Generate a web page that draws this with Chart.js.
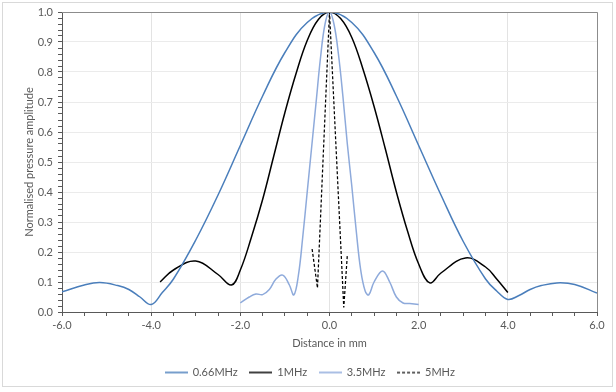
<!DOCTYPE html>
<html>
<head>
<meta charset="utf-8">
<script src="https://cdn.jsdelivr.net/npm/chart.js@4.4.1/dist/chart.umd.min.js"></script>
<style>
  html, body { margin: 0; padding: 0; background: #fff; }
  #wrap { width: 616px; height: 392px; }
</style>
</head>
<body>
<div id="wrap"><canvas id="beam-chart"></canvas></div>
<script>
// values
const x066 = [-6.0, -5.5, -5.15, -4.75, -4.5, -4.25, -4.0, -3.75, -3.5, -3.0, -2.5, -2.0, -1.5, -1.0, -0.5, 0.0, 0.5, 1.0, 1.5, 2.0, 2.5, 3.0, 3.5, 3.75, 4.0, 4.25, 4.5, 4.75, 5.1, 5.5, 6.0];
const y066 = [0.067, 0.09, 0.098, 0.088, 0.075, 0.05, 0.025, 0.065, 0.11, 0.24, 0.39, 0.555, 0.72, 0.865, 0.965, 1.0, 0.965, 0.865, 0.72, 0.555, 0.39, 0.235, 0.11, 0.07, 0.042, 0.055, 0.075, 0.088, 0.097, 0.092, 0.063];

const x1 = [-3.8, -3.5, -3.0, -2.5, -2.2, -2.0, -1.75, -1.5, -1.25, -1.0, -0.75, -0.5, -0.25, 0.0, 0.25, 0.5, 0.75, 1.0, 1.25, 1.5, 1.75, 2.0, 2.25, 2.5, 3.05, 3.5, 3.75, 4.0];
const y1 = [0.10, 0.14, 0.17, 0.125, 0.09, 0.14, 0.25, 0.375, 0.52, 0.665, 0.795, 0.905, 0.975, 1.0, 0.978, 0.915, 0.81, 0.685, 0.545, 0.40, 0.27, 0.16, 0.097, 0.13, 0.18, 0.15, 0.11, 0.065];

const x35 = [-2.0, -1.8, -1.65, -1.5, -1.35, -1.2, -1.05, -0.9, -0.8, -0.7, -0.6, -0.5, -0.4, -0.3, -0.2, -0.1, 0.0, 0.1, 0.2, 0.3, 0.4, 0.5, 0.6, 0.7, 0.8, 0.88, 1.0, 1.19, 1.35, 1.5, 1.65, 1.8, 2.0];
const y35 = [0.03, 0.05, 0.06, 0.058, 0.075, 0.11, 0.123, 0.09, 0.057, 0.12, 0.25, 0.40, 0.55, 0.70, 0.85, 0.96, 1.0, 0.96, 0.86, 0.72, 0.56, 0.42, 0.27, 0.14, 0.07, 0.057, 0.10, 0.137, 0.10, 0.05, 0.03, 0.028, 0.025];

const x5 = [-0.39, -0.27, 0.0, 0.32, 0.40];
const y5 = [0.21, 0.08, 1.0, 0.015, 0.19];

const seriesNames = ['0.66MHz', '1MHz', '3.5MHz', '5MHz'];

const xTickLabels = ['-6.0', '-4.0', '-2.0', '0.0', '2.0', '4.0', '6.0'];

function pts(xs, ys) {
  return xs.map((x, i) => ({ x: x, y: ys[i] }));
}

function isMultiple(v, step) {
  const r = v / step;
  return Math.abs(r - Math.round(r)) < 1e-6;
}

// small line sample for the legend (keeps dash pattern)
function legendLine(color, width, dash) {
  const c = document.createElement('canvas');
  c.width = 23;
  c.height = 4;
  const g = c.getContext('2d');
  g.strokeStyle = color;
  g.lineWidth = width;
  g.setLineDash(dash);
  g.beginPath();
  g.moveTo(0, 2);
  g.lineTo(23, 2);
  g.stroke();
  return c;
}

const frame = {
  id: 'frame',
  beforeDraw(chart) {
    const ctx = chart.ctx;
    ctx.save();
    ctx.fillStyle = '#fff';
    ctx.fillRect(0, 0, chart.width, chart.height);
    ctx.strokeStyle = '#d9d9d9';
    ctx.lineWidth = 1;
    ctx.strokeRect(2.5, 2.5, 610, 384);
    ctx.restore();
  },
  afterDraw(chart) {
    const a = chart.chartArea;
    const ctx = chart.ctx;
    ctx.save();
    ctx.strokeStyle = '#8c8c8c';
    ctx.lineWidth = 1;
    ctx.beginPath();
    ctx.moveTo(a.left, a.top + 0.5);
    ctx.lineTo(a.right + 0.5, a.top + 0.5);
    ctx.lineTo(a.right + 0.5, a.bottom);
    ctx.stroke();
    ctx.restore();
  }
};

const font = { family: 'Lato, "Open Sans", sans-serif', size: 11 };

new Chart(document.getElementById('beam-chart'), {
  type: 'line',
  data: {
    datasets: [
      {
        label: seriesNames[0],
        data: pts(x066, y066),
        borderColor: '#4a7ebb',
        borderWidth: 1.5,
        tension: 0.4,
        pointRadius: 0,
        pointStyle: legendLine('#4a7ebb', 1.5, [])
      },
      {
        label: seriesNames[1],
        data: pts(x1, y1),
        borderColor: '#000000',
        borderWidth: 1.5,
        tension: 0.4,
        pointRadius: 0,
        pointStyle: legendLine('#000000', 1.5, [])
      },
      {
        label: seriesNames[2],
        data: pts(x35, y35),
        borderColor: '#8eaadb',
        borderWidth: 1.5,
        tension: 0.4,
        pointRadius: 0,
        pointStyle: legendLine('#8eaadb', 1.5, [])
      },
      {
        label: seriesNames[3],
        data: pts(x5, y5),
        borderColor: '#000000',
        borderWidth: 1.25,
        borderDash: [3, 2],
        tension: 0,
        pointRadius: 0,
        pointStyle: legendLine('#000000', 1.25, [3, 2])
      }
    ]
  },
  options: {
    responsive: true,
    maintainAspectRatio: false,
    animation: false,
    layout: { padding: { left: 23, right: 19, top: 12, bottom: 4 } },
    plugins: {
      legend: {
        position: 'bottom',
        labels: {
          usePointStyle: true,
          pointStyleWidth: 22,
          padding: 12,
          color: '#595959',
          font: font
        }
      },
      tooltip: { enabled: false }
    },
    scales: {
      x: {
        type: 'linear',
        min: -6,
        max: 6,
        afterFit(scale) { scale.height = 43; },
        ticks: {
          stepSize: 0.5,
          autoSkip: false,
          maxRotation: 0,
          padding: 3,
          color: '#595959',
          font: font,
          callback: (v) => isMultiple(v, 2) ? xTickLabels[Math.round((v + 6) / 2)] : ''
        },
        grid: {
          color: (c) => isMultiple(c.tick.value, 2) ? '#e3e3e3' : 'rgba(0,0,0,0)',
          tickColor: '#595959',
          tickLength: 4
        },
        border: { color: '#595959', width: 1 },
        title: {
          display: true,
          text: 'Distance in mm',
          color: '#595959',
          font: font,
          padding: { top: 0, bottom: 5 }
        }
      },
      y: {
        min: 0,
        max: 1,
        afterFit(scale) { scale.width = 39; },
        ticks: {
          stepSize: 0.02,
          autoSkip: false,
          padding: 5,
          color: '#595959',
          font: font,
          callback: (v) => isMultiple(v, 0.1) ? v.toFixed(1) : ''
        },
        grid: {
          color: (c) => isMultiple(c.tick.value, 0.1) ? '#ebebeb' : 'rgba(0,0,0,0)',
          tickColor: '#595959',
          tickLength: 4
        },
        border: { color: '#595959', width: 1 },
        title: {
          display: true,
          text: 'Normalised pressure amplitude',
          color: '#595959',
          font: font,
          padding: { top: 0, bottom: 0 }
        }
      }
    }
  },
  plugins: [frame]
});
</script>
</body>
</html>
